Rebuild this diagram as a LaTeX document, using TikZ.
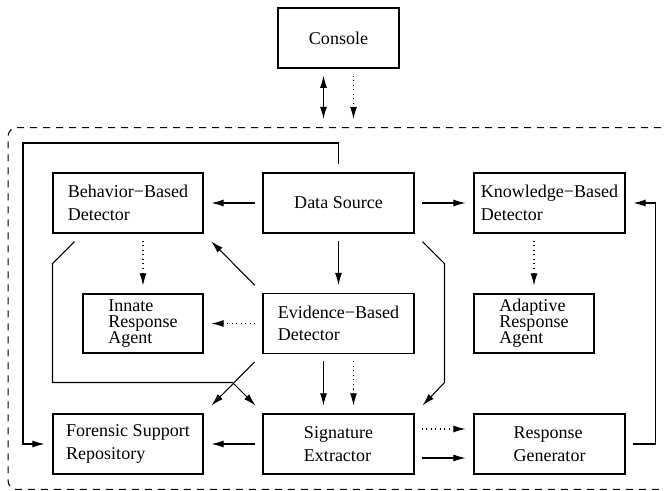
\documentclass[tikz,border=0pt]{standalone}
\usepackage{fontspec}
\setmainfont{Liberation Serif}
\usetikzlibrary{calc,arrows.meta}
\tikzset{
  box/.style={draw, line width=0.6pt, align=left, minimum width=3.02cm, minimum height=1.2cm,
    inner sep=2pt, font=\fontsize{10.25}{12.8}\selectfont},
  agent/.style={box, minimum width=2.4cm, minimum height=1.18cm, font=\fontsize{10.25}{9}\selectfont},
  flow/.style={draw, line width=0.6pt, -{Latex[length=7pt,width=4pt]}, shorten <=4pt, shorten >=4.5pt},
  twoway/.style={flow, {Latex[length=7pt,width=4pt]}-{Latex[length=7pt,width=4pt]}},
  hint/.style={flow, dotted},
  sysframe/.style={draw, line width=0.6pt, dash pattern=on 4pt off 3.4pt, rounded corners=5pt}
}

\begin{document}
\begin{tikzpicture}[x=0.02cm, y=-0.02cm]
  \useasboundingbox (0,0) rectangle (664,491);

  % boxes
  \node[box, minimum width=2.42cm] (console) at (338.5,38) {Console};
  \node[box, minimum width=3.0cm] (behavior) at (128,203) {Behavior−Based\\Detector};
  \node[box] (datasrc) at (338.5,203) {Data Source};
  \node[box] (knowledge) at (549.5,203) {Knowledge−Based\\Detector};
  \node[agent] (innate) at (143,323.5) {Innate\\Response\\Agent};
  \node[box] (evidence) at (338.5,323.5) {Evidence−Based\\Detector};
  \node[agent] (adaptive) at (534,323.5) {Adaptive\\Response\\Agent};
  \node[box, minimum width=3.0cm] (forensic) at (128,444) {Forensic Support\\Repository};
  \node[box] (signature) at (338.5,444) {Signature\\Extractor};
  \node[box] (response) at (549.5,444) {Response\\Generator};
  \node[sysframe, minimum width=13.5cm, minimum height=7.24cm] (system) at (345.5,308.5) {};

  % console link
  \draw[twoway] ($(console.south)+(-15,0)$) -- ($(console.south |- system.north)+(-15,0)$);
  \draw[hint] ($(console.south)+(15,0)$) -- ($(console.south |- system.north)+(15,0)$);

  % from the data source
  \draw[flow] (datasrc.west) -- (behavior.east);
  \draw[flow] (datasrc.east) -- (knowledge.west);
  \draw[flow] (datasrc.south) -- (evidence.north);
  \draw[flow, shorten <=0pt] ($(datasrc.north)+(0,-8)$) |- (23,143) |- (forensic.west);
  \draw[flow, shorten <=0pt, shorten >=0pt] ($(datasrc.south east)+(8,8)$)
    -- ($(datasrc.south east)+(30,30)$) -- ($(signature.north east)+(30,-31)$)
    -- ($(signature.north east)+(8,-8)$);

  % detectors to agents
  \draw[hint] (innate.north |- behavior.south) -- (innate.north);
  \draw[hint] (adaptive.north |- knowledge.south) -- (adaptive.north);
  \draw[hint] (evidence.west) -- (innate.east);
  \draw[flow, shorten <=0pt, shorten >=0pt] ($(behavior.south west)+(22,8)$)
    -- ($(behavior.south west)+(0,30)$) |- ($(signature.north west)+(-30,-31)$)
    -- ($(signature.north west)+(-7,-8)$);

  % from the evidence detector
  \draw[flow, shorten <=6.2pt, shorten >=6.2pt] (evidence.north west) -- (behavior.south east);
  \draw[flow, shorten <=6.4pt, shorten >=6.4pt] (evidence.south west) -- (forensic.north east);
  \draw[flow] ($(evidence.south)+(-15,0)$) -- ($(signature.north)+(-15,0)$);
  \draw[hint] ($(evidence.south)+(15,0)$) -- ($(signature.north)+(15,0)$);

  % bottom row
  \draw[flow] (signature.west) -- (forensic.east);
  \draw[hint] ($(signature.east)+(0,-15)$) -- ($(response.west)+(0,-15)$);
  \draw[flow] ($(signature.east)+(0,14)$) -- ($(response.west)+(0,14)$);
  \draw[flow] (response.east) -- ++(30,0) |- (knowledge.east);
\end{tikzpicture}
\end{document}
